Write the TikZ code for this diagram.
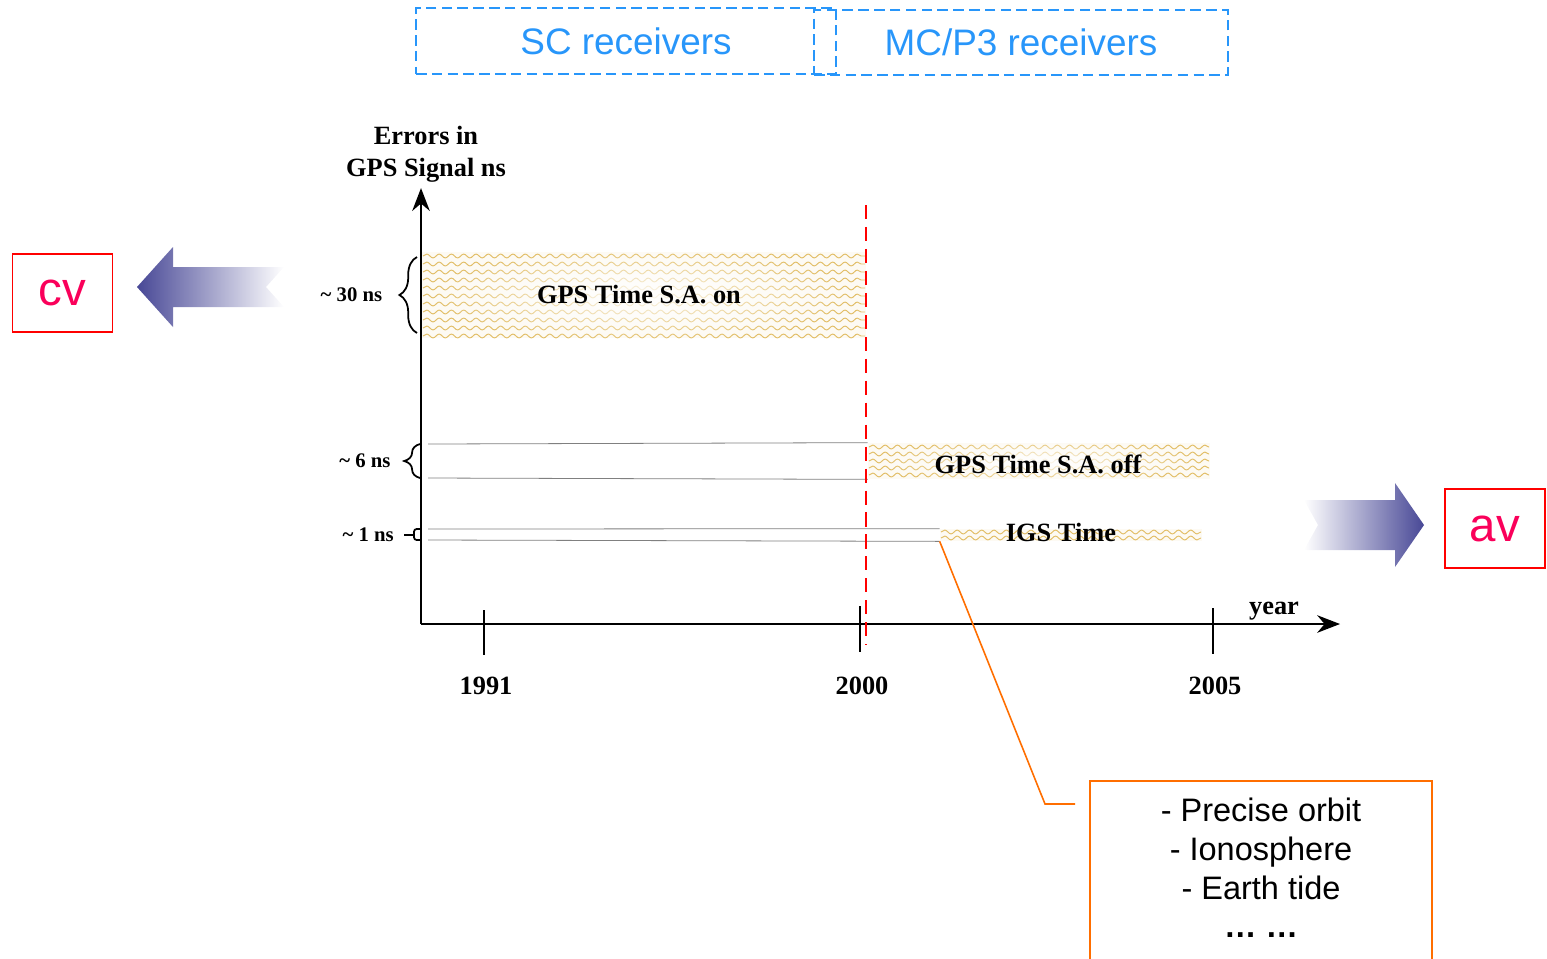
\documentclass[tikz,border=0pt]{standalone}
\usepackage{fontspec}
\setmainfont{Liberation Serif}
\newfontfamily\arialfont{Liberation Sans}
\usetikzlibrary{arrows.meta,decorations.pathmorphing,decorations.pathreplacing,fadings}
\definecolor{rxblue}{RGB}{40,150,250}
\definecolor{wavegold}{RGB}{215,165,45}
\definecolor{arrowblue}{RGB}{72,72,150}
\definecolor{cvpink}{RGB}{250,0,90}
\definecolor{calloutorange}{RGB}{255,110,0}
\tikzfading[name=centrefade, inner color=transparent!10, outer color=transparent!100]
\tikzset{
  rxbox/.style={draw=rxblue, line width=1pt, dash pattern=on 6pt off 3pt,
    text=rxblue, font=\arialfont\fontsize{21}{24}\selectfont},
  modebox/.style={draw=red, line width=1.1pt, minimum width=2cm, minimum height=1.57cm,
    text=cvpink, font=\arialfont\fontsize{27}{30}\selectfont},
  wave/.style={draw=wavegold, line width=0.55pt, opacity=0.7,
    decorate, decoration={snake, segment length=7pt, amplitude=1.1pt}},
  band/.style={inner sep=0pt, font=\fontsize{15}{18}\selectfont\bfseries},
  axis/.style={line width=1.1pt, -{Stealth[length=13pt,width=10pt]}},
  tick/.style={line width=0.8pt},
  yearlbl/.style={font=\fontsize{15}{18}\selectfont\bfseries},
  nslbl/.style={font=\fontsize{11.8}{14}\selectfont\bfseries},
  bracket/.style={line width=1pt, decorate, decoration={brace, amplitude=#1}},
  guide/.style={draw=gray, line width=0.45pt},
}
\begin{document}
\begin{tikzpicture}[x=0.02cm,y=-0.02cm]
    \useasboundingbox (0,0) rectangle (1547,958);
    \clip (0,0) rectangle (1547,958); % the notes box runs off the bottom

    % receivers on top
    \node[rxbox, minimum width=8.4cm, minimum height=1.32cm] (sc) at (626,41) {SC receivers};
    \node[rxbox, minimum width=8.28cm, minimum height=1.3cm] (mc) at (1021,42.5) {MC/P3 receivers};

    % cv / av
    \node[modebox] (cv) at (62.5,293) {cv};
    \node[modebox] (av) at (1495,528.5) {av};
    \shade[left color=arrowblue, right color=white]
      (137,287) -- (173,247) -- (173,267) -- (284,267) -- (266,287)
      -- (284,307) -- (173,307) -- (173,327) -- cycle;
    \shade[left color=white, right color=arrowblue]
      (1424,525) -- (1395,483) -- (1395,500) -- (1304,500) -- (1318,525)
      -- (1304,550) -- (1395,550) -- (1395,567) -- cycle;

    % bands
    \fill[wavegold!6] (422,252) rectangle (866,338);
    \foreach \y in {256,264,...,336}
      \draw[wave] (423,\y) -- (865,\y);
    \fill[white, path fading=centrefade] (640,295) ellipse [x radius=4.2cm, y radius=0.95cm];
    \fill[wavegold!6] (868,443) rectangle (1210,479);
    \foreach \y in {447,454,...,475}
      \draw[wave] (869,\y) -- (1209,\y);
    \fill[white, path fading=centrefade] (1039,461) ellipse [x radius=3.2cm, y radius=0.45cm];
    \fill[wavegold!6] (940,529) rectangle (1202,541);
    \foreach \y in {532,538}
      \draw[wave] (941,\y) -- (1201,\y);

    \node[band, minimum width=8.88cm, minimum height=1.72cm] (saon) at (644,295) {};
    \node[band] (saontxt) at (639,295) {GPS Time S.A. on};
    \node[band, minimum width=6.84cm, minimum height=0.72cm] (saoff) at (1039,461) {};
    \node[band] (safftxt) at (1038,464) {GPS Time S.A. off};
    \node[band, minimum width=5.24cm, minimum height=0.24cm] (igs) at (1071,535) {};
    \node[band] (igstxt) at (1061,532) {IGS Time};

    % guide lines for 6 ns and 1 ns
    \draw[guide] (428,444) -- (saoff.north west);
    \draw[guide] (428,478) -- (saoff.south west);
    \draw[guide] (428,529) -- (igs.north west);
    \draw[guide] (428,540) -- (igs.south west);

    % axes
    \coordinate (origin) at (421,624);
    \coordinate (xend) at (1340,624);
    \node[yearlbl, align=center] (ylabel) at (426,154) {Errors in\\GPS Signal ns};
    \draw[axis] (origin) -- (origin |- ylabel.south);
    \draw[axis] (origin) -- (xend);
    \node[yearlbl] (year) at (1274,611) {year};
    \foreach \x/\yr/\top/\bot in {484/1991/610/655, 860/2000/606/652, 1213/2005/608/654} {
      \draw[tick] (\x,\top) -- (\x,\bot);
      \node[yearlbl] (yr\yr) at (\x+2,686) {\yr};
    }

    % S.A. switched off
    \draw[red, line width=1.2pt, dash pattern=on 8pt off 4.5pt] (866,205) -- (866,645);

    % braces
    \draw[bracket=10pt] (417,333) -- (417,257) node[nslbl, midway, left=16pt] (ns30) {\textasciitilde\ 30 ns};
    \draw[bracket=9pt] (420,478) -- (420,444) node[nslbl, midway, left=13pt] (ns6) {\textasciitilde\ 6 ns};
    \draw[line width=1pt, rounded corners=1.5pt] (421,529) -- (414,529) -- (414,540) -- (421,540);
    \draw[line width=1pt] (414,535) -- (404,535) node[nslbl, left=2pt] (ns1) {\textasciitilde\ 1 ns};

    % what IGS time corrects
    \node[draw=calloutorange, line width=0.9pt, minimum width=6.84cm, minimum height=4cm,
      anchor=north] (notes) at (1261,780) {};
    \node[anchor=north, align=center, font=\arialfont\fontsize{18.5}{22}\selectfont] (notetxt) at (1261,792)
      {- Precise orbit\\- Ionosphere\\- Earth tide\\\textbf{… …}};
    \coordinate (callbend) at (1045,804);
    \coordinate (callend) at (1075,804);
    \draw[calloutorange, line width=0.9pt] (igs.south west) -- (callbend) -- (callend);
\end{tikzpicture}
\end{document}
